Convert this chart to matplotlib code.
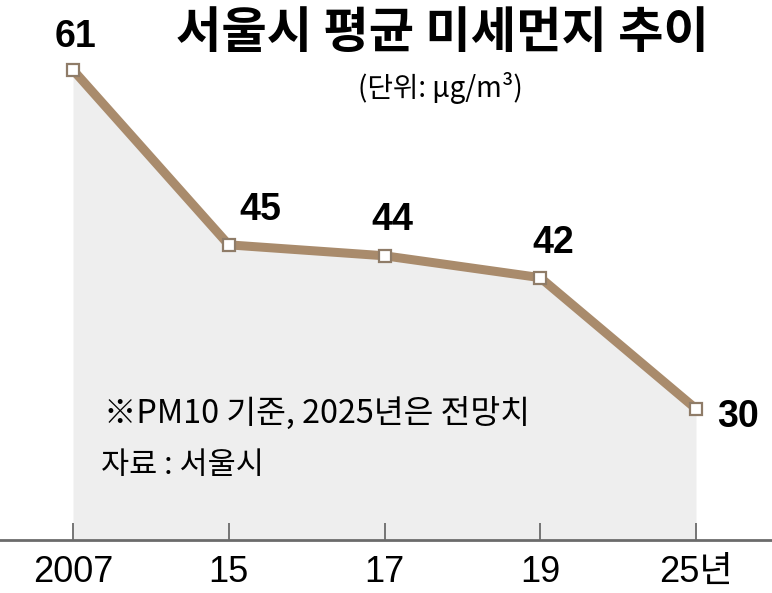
import matplotlib
matplotlib.use("Agg")
import matplotlib.pyplot as plt

years = ["2007", "15", "17", "19", "25년"]
values = [61, 45, 44, 42, 30]

title = "서울시 평균 미세먼지 추이"
unit = "(단위: μg/m³)"
note = "※PM10 기준, 2025년은 전망치"
source = "자료 : 서울시"

NUM = ["Liberation Sans Narrow", "Liberation Sans", "Noto Sans CJK KR", "DejaVu Sans"]
KR = ["Noto Sans CJK KR", "DejaVu Sans"]

W, H = 772, 593
fig = plt.figure(figsize=(W / 100, H / 100), dpi=100)
fig.patch.set_facecolor("white")
ax = fig.add_axes([0, (H - 540) / H, 1, 540 / H])
x = list(range(len(years)))

ax.fill_between(x, values, 18, color="#eeeeee", zorder=1, linewidth=0)
ax.plot(x, values, color="#a98b6c", linewidth=6.5, solid_capstyle="butt",
        zorder=3)
ax.plot(x, values, linestyle="none", marker="s", markersize=9,
        markerfacecolor="white", markeredgecolor="#8f7c68",
        markeredgewidth=1.6, zorder=4)

ax.set_xlim(-73 / 155.75, (W - 73) / 155.75)
ax.set_ylim(18, 61 + 70 / 10.94)

for s in ["top", "left", "right"]:
    ax.spines[s].set_visible(False)
ax.spines["bottom"].set_color("#6b6b6b")
ax.spines["bottom"].set_linewidth(2)
ax.set_yticks([])
ax.set_xticks(x)
ax.set_xticklabels(years, fontsize=26, family=NUM)
ax.tick_params(axis="x", direction="in", length=12, width=1.3,
               color="#6b6b6b", pad=11)

# value labels (offsets in pixels)
offsets = [(2, 33), (32, 35), (8, 36), (13, 35), (42, -8)]
for xi, v, (dx, dy) in zip(x, values, offsets):
    ax.annotate(str(v), (xi, v), xytext=(dx, dy), textcoords="offset pixels",
                ha="center", va="center", fontsize=27, fontweight="bold",
                family=NUM, zorder=5)

fig.text(442 / W, 1 - 33 / H, title, ha="center", va="center", fontsize=35.5,
         fontweight="bold", family=KR)
fig.text(440 / W, 1 - 88 / H, unit, ha="center", va="center", fontsize=20,
         family=KR)
fig.text(104 / W, 1 - 413 / H, note, ha="left", va="center", fontsize=23.3,
         family=KR)
fig.text(101 / W, 1 - 466 / H, source, ha="left", va="center", fontsize=22,
         family=KR)

fig.savefig("out.png", dpi=100, facecolor="white")
